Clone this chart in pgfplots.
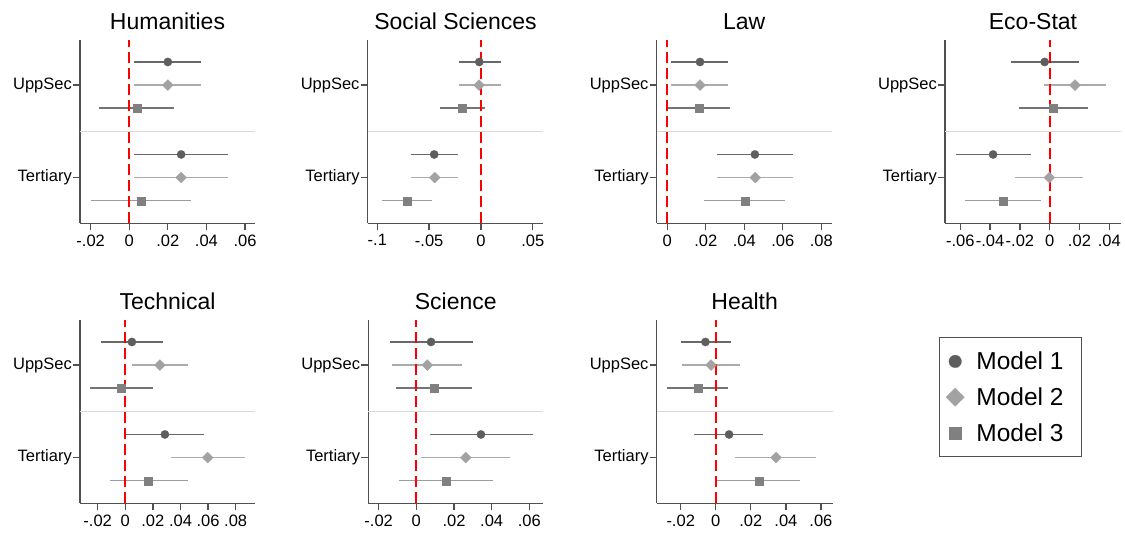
\documentclass[border=0pt]{standalone}
\usepackage{fontspec}
\setmainfont{Liberation Sans}
\usepackage{pgfplots}
\usepackage{pgfplotstable}
\pgfplotsset{compat=1.18}

\definecolor{c1}{HTML}{5E5E5E}
\definecolor{c2}{HTML}{A2A2A2}
\definecolor{c3}{HTML}{808080}
\definecolor{ci1}{HTML}{686868}
\definecolor{ci2}{HTML}{ABABAB}
\definecolor{ci3a}{HTML}{747474}
\definecolor{ci3b}{HTML}{9C9C9C}
\definecolor{axc}{HTML}{505050}
\definecolor{sepc}{HTML}{DADADA}
\definecolor{zeroc}{HTML}{FF0000}

% columns: y e1 l1 h1 e2 l2 h2 e3 l3 h3 ; y=7 UppSec, y=3 Tertiary
\pgfplotstableread{
y e1 l1 h1 e2 l2 h2 e3 l3 h3
7 0.0200 0.0027 0.0374 0.0200 0.0027 0.0374 0.0040 -0.0155 0.0233
3 0.0269 0.0027 0.0513 0.0269 0.0027 0.0513 0.0062 -0.0196 0.0319
}\hum
\pgfplotstableread{
y e1 l1 h1 e2 l2 h2 e3 l3 h3
7 -0.0016 -0.0215 0.0190 -0.0018 -0.0215 0.0190 -0.0183 -0.0396 0.0036
3 -0.0451 -0.0673 -0.0225 -0.0446 -0.0673 -0.0225 -0.0714 -0.0956 -0.0473
}\soc
\pgfplotstableread{
y e1 l1 h1 e2 l2 h2 e3 l3 h3
7 0.0170 0.0021 0.0317 0.0170 0.0021 0.0317 0.0163 0.0000 0.0327
3 0.0455 0.0258 0.0655 0.0457 0.0258 0.0655 0.0402 0.0192 0.0611
}\law
\pgfplotstableread{
y e1 l1 h1 e2 l2 h2 e3 l3 h3
7 -0.0034 -0.0261 0.0199 0.0170 -0.0038 0.0375 0.0022 -0.0208 0.0257
3 -0.0380 -0.0626 -0.0125 -0.0002 -0.0235 0.0223 -0.0313 -0.0570 -0.0060
}\eco
\pgfplotstableread{
y e1 l1 h1 e2 l2 h2 e3 l3 h3
7 0.0048 -0.0179 0.0273 0.0251 0.0051 0.0454 -0.0029 -0.0256 0.0198
3 0.0287 0.0005 0.0572 0.0597 0.0329 0.0865 0.0169 -0.0111 0.0454
}\tech
\pgfplotstableread{
y e1 l1 h1 e2 l2 h2 e3 l3 h3
7 0.0078 -0.0140 0.0299 0.0058 -0.0127 0.0242 0.0094 -0.0106 0.0296
3 0.0343 0.0074 0.0619 0.0262 0.0027 0.0499 0.0158 -0.0092 0.0407
}\sci
\pgfplotstableread{
y e1 l1 h1 e2 l2 h2 e3 l3 h3
7 -0.0059 -0.0201 0.0089 -0.0027 -0.0194 0.0141 -0.0103 -0.0277 0.0072
3 0.0076 -0.0122 0.0272 0.0344 0.0112 0.0574 0.0247 0.0000 0.0479
}\hea

\pgfplotsset{
  panel/.style={
    scale only axis, height=183.3pt,
    anchor=south west,
    ymin=0.023, ymax=7.951,
    ytick={6,2}, yticklabels={UppSec,Tertiary},
    axis x line*=bottom, axis y line*=left,
    xtick pos=bottom, ytick pos=left,
    scaled x ticks=false,
    axis line style={draw=axc, line width=1.3pt, -},
    tick style={draw=axc, line width=1.3pt},
    major tick length=7pt, tick align=outside,
    ticklabel style={font=\fontsize{16.5}{19}\selectfont, text=black},
    yticklabel style={inner xsep=1pt},
    xticklabel style={inner ysep=4pt},
    title style={font=\fontsize{23}{27}\selectfont, at={(0.5,1)}, anchor=base, yshift=4pt},
    clip=false,
  },
  m1/.style={mark=*, mark size=4.2pt, mark options={draw=c1, fill=c1, line width=0.2pt}},
  m2/.style={mark=square*, mark size=3.9pt, mark options={rotate=45, draw=c2, fill=c2, line width=0.2pt}},
  m3/.style={mark=square*, mark size=4pt, mark options={draw=c3, fill=c3, line width=0.2pt}},
}

\newcommand\ci[5]{% table, model, color, y offset, extra
\addplot[draw=none, mark=none, forget plot, #5,
  error bars/.cd, x dir=both, x explicit, error mark=none,
  error bar style={draw=#3, line width=1.5pt, solid}]
  table[x=e#2, y expr=\thisrow{y}-#4,
        x error plus expr=\thisrow{h#2}-\thisrow{e#2},
        x error minus expr=\thisrow{e#2}-\thisrow{l#2}] {#1};
}
\newcommand\mk[4]{% table, model, style, y offset
\addplot[only marks, forget plot, #3] table[x=e#2, y expr=\thisrow{y}-#4] {#1};
}

\newcommand\panel[9]{%
\begin{axis}[panel, at={(#1pt,#2pt)}, width=#3pt, xmin=#4, xmax=#5,
  xtick={#6}, xticklabels={#7}, title={#8}]
\addplot[draw=sepc, line width=1pt, forget plot] coordinates {(#4,4) (#5,4)};
\ci{#9}{1}{ci1}{0}{}
\ci{#9}{2}{ci2}{1}{}
\ci{#9}{3}{ci3a}{2}{skip coords between index={1}{2}}
\ci{#9}{3}{ci3b}{2}{skip coords between index={0}{1}}
\addplot[color=zeroc, mark=none, solid, line width=1.8pt, dash pattern=on 11pt off 5pt, forget plot] coordinates {(0,0.023) (0,7.951)};
\mk{#9}{1}{m1}{0}
\mk{#9}{2}{m2}{1}
\mk{#9}{3}{m3}{2}
\end{axis}}

\begin{document}
\begin{tikzpicture}
\path[use as bounding box] (0pt,0pt) rectangle (1125pt,534pt);
\panel{80}{310.7}{175}{-0.02555}{0.0652}{-0.02,0,0.02,0.04,0.06}{-.02,0,.02,.04,.06}{Humanities}{\hum}
\panel{367.7}{310.7}{175.6}{-0.1093}{0.0602}{-0.1,-0.05,0,0.05}{-.1,-.05,0,.05}{Social Sciences}{\soc}
\panel{656.7}{310.7}{175}{-0.0055}{0.0854}{0,0.02,0.04,0.06,0.08}{0,.02,.04,.06,.08}{Law}{\law}
\panel{945}{310.7}{176}{-0.0703}{0.0479}{-0.06,-0.04,-0.02,0,0.02,0.04}{-.06,-.04,-.02,0,.02,.04}{Eco-Stat}{\eco}
\panel{80}{30.7}{175}{-0.0328}{0.094}{-0.02,0,0.02,0.04,0.06,0.08}{-.02,0,.02,.04,.06,.08}{Technical}{\tech}
\panel{368.3}{30.7}{175}{-0.0255}{0.0674}{-0.02,0,0.02,0.04,0.06}{-.02,0,.02,.04,.06}{Science}{\sci}
\panel{656.7}{30.7}{176}{-0.0337}{0.0667}{-0.02,0,0.02,0.04,0.06}{-.02,0,.02,.04,.06}{Health}{\hea}
\begin{axis}[hide axis, scale only axis, anchor=south west, at={(938.5pt,78.3pt)},
  width=142pt, height=118.4pt, xmin=0, xmax=1, ymin=0, ymax=1,
  legend style={at={(0,1)}, anchor=north west, draw=axc, line width=1pt,
    font=\fontsize{24.5}{28}\selectfont, row sep=12.5pt, inner xsep=7pt, inner ysep=12pt,
    legend cell align=left,
    /tikz/every odd column/.append style={column sep=10pt}},
  legend image code/.code={\draw[#1] plot coordinates {(0.3cm,0cm)};}]
\addlegendimage{only marks, mark=*, mark size=6.3pt, mark options={draw=c1, fill=c1, line width=0.2pt}}
\addlegendimage{only marks, mark=square*, mark size=6.5pt, mark options={rotate=45, draw=c2, fill=c2, line width=0.2pt}}
\addlegendimage{only marks, mark=square*, mark size=6.3pt, mark options={draw=c3, fill=c3, line width=0.2pt}}
\legend{Model 1\kern9pt\null, Model 2\kern9pt\null, Model 3\kern9pt\null}
\end{axis}
\end{tikzpicture}
\end{document}
